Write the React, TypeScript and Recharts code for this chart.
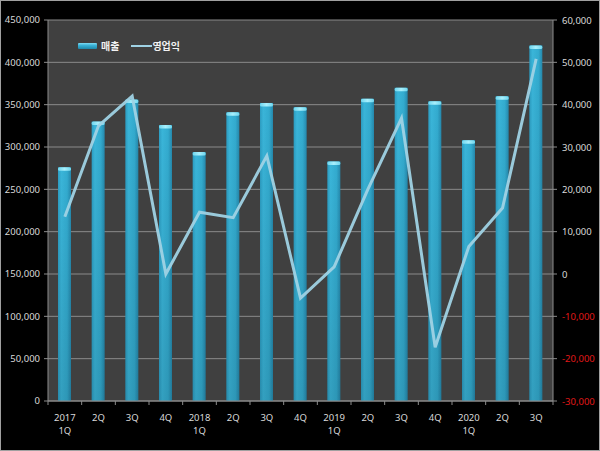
import { Bar, CartesianGrid, ComposedChart, Line, XAxis, YAxis } from 'recharts';

// 분기별 매출 / 영업익
const PERIODS = [
  '2017\n1Q', '2Q', '3Q', '4Q',
  '2018\n1Q', '2Q', '3Q', '4Q',
  '2019\n1Q', '2Q', '3Q', '4Q',
  '2020\n1Q', '2Q', '3Q',
];
const SALES = [276000, 330000, 356000, 326000, 294000, 341000, 352000, 347000, 283000, 357000, 370000, 354000, 308000, 360000, 420000];
const PROFIT = [13500, 35000, 42000, 0, 14600, 13300, 27900, -5700, 1700, 20000, 36800, -17300, 6500, 15600, 50800];
const SALES_TICKS = [0, 50000, 100000, 150000, 200000, 250000, 300000, 350000, 400000, 450000];
const PROFIT_TICKS = [-30000, -20000, -10000, 0, 10000, 20000, 30000, 40000, 50000, 60000];

const data = PERIODS.map((p, i) => ({ period: p, sales: SALES[i], profit: PROFIT[i] }));

const W = 600;
const H = 451;
const LEFT_W = 48;
const RIGHT_W = 47;
const TOP = 20;
const BOTTOM_H = 50;
const PLOT_BOTTOM = H - BOTTOM_H;
const BAND = (W - LEFT_W - RIGHT_W) / PERIODS.length;

const LABEL = '#d9d9d9';
const AXIS_LINE = '#8c8c8c';
const LINE = '#9fd2e4';
const FONT = '"Noto Sans", "Noto Sans CJK KR", sans-serif';

const fmt = (v: number) => v.toLocaleString('en-US');

// 원통형 막대: 가로 그라데이션 + 윗면 하이라이트
function GlassBar(props: any) {
  const { x, y, width, height } = props;
  if (!height || height <= 0) return null;
  return (
    <g>
      <rect x={x} y={y} width={width} height={height} fill="url(#barBody)" />
      <rect x={x} y={y} width={width} height={height} fill="url(#barShade)" />
      <rect x={x} y={y} width={width} height={3.5} rx={1.5} fill="url(#barCap)" />
    </g>
  );
}

function PeriodTick({ x, payload, index }: any) {
  const lines = String(payload.value).split('\n');
  const left = x - BAND / 2;
  return (
    <g>
      <line x1={left} y1={PLOT_BOTTOM} x2={left} y2={PLOT_BOTTOM + 4} stroke={AXIS_LINE} />
      {index === PERIODS.length - 1 && (
        <line x1={x + BAND / 2} y1={PLOT_BOTTOM} x2={x + BAND / 2} y2={PLOT_BOTTOM + 4} stroke={AXIS_LINE} />
      )}
      {lines.map((t, i) => (
        <text key={i} x={x} y={PLOT_BOTTOM + 20 + i * 13} textAnchor="middle" fill={LABEL} fontSize={9.5} fontFamily={FONT}>
          {t}
        </text>
      ))}
    </g>
  );
}

function ProfitTick({ x, y, payload }: any) {
  const v = Number(payload.value);
  return (
    <text x={x} y={y} dy={3.5} textAnchor="start" fill={v < 0 ? '#e01818' : LABEL} fontSize={9.5} fontFamily={FONT}>
      {fmt(v)}
    </text>
  );
}

function LegendBox() {
  return (
    <div
      style={{
        position: 'absolute',
        left: 78,
        top: 38,
        display: 'flex',
        alignItems: 'center',
        fontFamily: FONT,
        fontSize: 10,
        fontWeight: 'bold',
        color: '#f2f2f2',
      }}
    >
      <svg width={19} height={8} style={{ marginRight: 4 }}>
        <defs>
          <linearGradient id="legendBar" x1="0" y1="0" x2="0" y2="1">
            <stop offset="0%" stopColor="#7fdcf3" />
            <stop offset="40%" stopColor="#3ab2d6" />
            <stop offset="100%" stopColor="#1f88aa" />
          </linearGradient>
        </defs>
        <rect x={0} y={1} width={19} height={6} rx={1} fill="url(#legendBar)" />
      </svg>
      <span style={{ marginRight: 12 }}>매출</span>
      <svg width={21} height={8} style={{ marginRight: 0 }}>
        <line x1={0} y1={4} x2={21} y2={4} stroke={LINE} strokeWidth={2} />
      </svg>
      <span>영업익</span>
    </div>
  );
}

export default function App() {
  return (
    <div
      style={{
        position: 'fixed',
        left: 0,
        top: 0,
        width: W,
        height: H,
        background: '#000000',
        boxShadow: 'inset 0 0 0 1px #a0a0a0',
      }}
    >
      <ComposedChart width={W} height={H} data={data} margin={{ top: TOP, right: 0, bottom: 0, left: 0 }}>
        <defs>
          <linearGradient id="barBody" x1="0" y1="0" x2="1" y2="0">
            <stop offset="0%" stopColor="#2c9cc1" />
            <stop offset="25%" stopColor="#3ab5d9" />
            <stop offset="70%" stopColor="#33abcf" />
            <stop offset="100%" stopColor="#2588ac" />
          </linearGradient>
          <linearGradient id="barShade" x1="0" y1="0" x2="0" y2="1">
            <stop offset="0%" stopColor="#000000" stopOpacity={0} />
            <stop offset="100%" stopColor="#000000" stopOpacity={0.12} />
          </linearGradient>
          <linearGradient id="barCap" x1="0" y1="0" x2="1" y2="0">
            <stop offset="0%" stopColor="#6fd6ee" />
            <stop offset="50%" stopColor="#a8effc" />
            <stop offset="100%" stopColor="#6fd6ee" />
          </linearGradient>
        </defs>
        <CartesianGrid yAxisId="left" vertical={false} stroke="#8a8a8a" fill="#404040" fillOpacity={1} />
        <XAxis
          dataKey="period"
          height={BOTTOM_H}
          interval={0}
          tick={<PeriodTick />}
          tickLine={false}
          axisLine={{ stroke: AXIS_LINE }}
        />
        <YAxis
          yAxisId="left"
          width={LEFT_W}
          domain={[0, 450000]}
          ticks={SALES_TICKS}
          interval={0}
          tickFormatter={fmt}
          tick={{ fill: LABEL, fontSize: 9.5, fontFamily: FONT }}
          tickSize={4}
          tickMargin={4}
          tickLine={{ stroke: AXIS_LINE }}
          axisLine={{ stroke: AXIS_LINE }}
        />
        <YAxis
          yAxisId="right"
          orientation="right"
          width={RIGHT_W}
          domain={[-30000, 60000]}
          ticks={PROFIT_TICKS}
          interval={0}
          tick={<ProfitTick />}
          tickSize={4}
          tickMargin={5}
          tickLine={{ stroke: AXIS_LINE }}
          axisLine={{ stroke: AXIS_LINE }}
        />
        <Bar yAxisId="left" dataKey="sales" barSize={13} shape={<GlassBar />} isAnimationActive={false} />
        <Line
          yAxisId="right"
          dataKey="profit"
          type="linear"
          stroke={LINE}
          strokeWidth={3}
          strokeOpacity={0.95}
          dot={false}
          activeDot={false}
          isAnimationActive={false}
        />
      </ComposedChart>
      <LegendBox />
    </div>
  );
}
